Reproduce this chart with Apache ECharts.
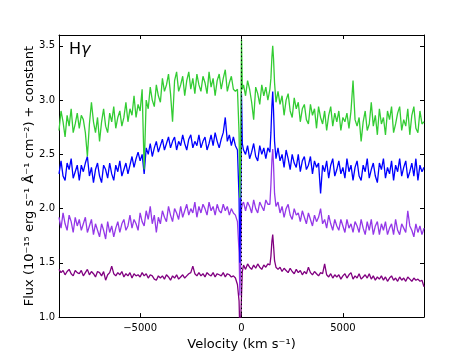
<!DOCTYPE html>
<html>
<head>
<meta charset="utf-8">
<script src="https://cdn.jsdelivr.net/npm/echarts@6/dist/echarts.min.js"></script>
<style>
  html, body { margin: 0; padding: 0; background: #fff; }
  #chart { width: 471px; height: 356px; }
</style>
</head>
<body>
<div id="chart"></div>
<script>
// velocity grid (km/s), denser around the narrow features at 0 and ~1500
var velocity = [
  -9000,-8900,-8800,-8700,-8600,-8500,-8400,-8300,-8200,-8100,
  -8000,-7900,-7800,-7700,-7600,-7500,-7400,-7300,-7200,-7100,
  -7000,-6900,-6800,-6700,-6600,-6500,-6400,-6300,-6200,-6100,
  -6000,-5900,-5800,-5700,-5600,-5500,-5400,-5300,-5200,-5100,
  -5000,-4900,-4800,-4700,-4600,-4500,-4400,-4300,-4200,-4100,
  -4000,-3900,-3800,-3700,-3600,-3500,-3400,-3300,-3200,-3100,
  -3000,-2900,-2800,-2700,-2600,-2500,-2400,-2300,-2200,-2100,
  -2000,-1900,-1800,-1700,-1600,-1500,-1400,-1300,-1200,-1100,
  -1000,-900,-800,-700,-600,-500,-400,
  -300,-200,-120,-80,-40,0,40,100,
  200,300,400,500,600,700,800,900,1000,1100,1200,1300,
  1400,1450,1500,1540,1580,1630,1700,
  1800,1900,2000,2100,2200,2300,2400,2500,2600,2700,
  2800,2900,3000,3100,3200,3300,3400,3500,3600,3700,
  3800,3900,4000,4100,4200,4300,4400,4500,4600,4700,
  4800,4900,5000,5100,5200,5300,5400,5500,5600,5700,
  5800,5900,6000,6100,6200,6300,6400,6500,6600,6700,
  6800,6900,7000,7100,7200,7300,7400,7500,7600,7700,
  7800,7900,8000,8100,8200,8300,8400,8500,8600,8700,
  8800,8900,9000
];

var fluxGreen = [
  2.72,2.90,2.80,2.66,2.86,2.76,2.92,2.70,2.78,2.88,
  2.74,2.86,2.82,2.70,2.48,2.78,2.98,2.80,2.70,2.84,
  2.62,2.80,2.92,2.76,2.70,2.88,2.80,2.94,2.74,2.84,
  2.90,2.76,2.84,2.98,2.80,2.92,2.86,3.04,2.84,2.96,
  2.90,3.10,2.36,3.00,2.92,3.12,3.00,2.94,3.14,3.04,
  2.98,3.20,3.08,3.14,3.24,3.06,2.80,3.18,3.26,3.08,
  3.14,3.22,3.04,3.18,3.26,3.10,3.20,3.06,3.24,3.14,
  3.08,3.22,3.16,3.06,3.26,3.12,3.20,3.04,3.18,3.24,
  3.10,3.20,3.28,3.08,3.16,3.22,3.10,
  3.08,3.10,2.70,2.10,2.60,3.56,3.10,3.14,
  3.04,3.18,3.10,2.98,2.82,3.12,3.06,2.96,3.14,3.04,3.12,3.00,
  3.10,3.20,3.40,3.50,3.38,3.16,2.98,
  3.08,2.96,3.04,2.86,3.00,3.06,2.90,2.84,3.02,2.92,
  2.98,2.80,2.92,2.96,2.82,2.78,2.96,2.86,2.92,2.74,
  2.94,2.84,2.78,2.90,2.72,2.86,2.94,2.76,2.88,2.80,
  2.90,2.72,2.84,2.80,2.88,2.74,2.90,3.18,2.82,2.76,
  2.84,2.62,2.80,2.90,2.72,2.78,2.98,2.76,2.86,2.68,
  2.92,2.78,2.84,2.68,2.90,2.82,2.94,2.70,2.78,2.88,
  2.94,2.72,2.82,2.76,2.92,2.68,2.86,2.94,2.74,2.70,
  2.90,2.78,2.80
];

var fluxBlue = [
  2.32,2.44,2.30,2.26,2.42,2.36,2.46,2.28,2.34,2.40,
  2.26,2.40,2.34,2.42,2.48,2.30,2.38,2.24,2.36,2.42,
  2.30,2.24,2.40,2.36,2.28,2.42,2.32,2.26,2.40,2.34,
  2.44,2.30,2.36,2.42,2.32,2.40,2.48,2.38,2.46,2.52,
  2.44,2.50,2.32,2.56,2.50,2.60,2.48,2.56,2.62,2.52,
  2.58,2.64,2.54,2.60,2.66,2.56,2.62,2.66,2.54,2.62,
  2.58,2.68,2.60,2.54,2.64,2.68,2.56,2.62,2.58,2.68,
  2.56,2.62,2.66,2.54,2.60,2.68,2.58,2.70,2.62,2.56,
  2.64,2.70,2.84,2.62,2.68,2.58,2.66,
  2.58,2.54,2.10,1.50,2.00,3.06,2.60,2.54,
  2.50,2.58,2.46,2.52,2.60,2.48,2.44,2.58,2.50,2.56,2.46,2.56,
  2.52,2.70,2.95,3.08,2.90,2.62,2.46,
  2.56,2.44,2.50,2.38,2.54,2.46,2.36,2.50,2.42,2.38,
  2.50,2.34,2.44,2.48,2.36,2.40,2.48,2.32,2.44,2.38,
  2.42,2.14,2.40,2.34,2.44,2.28,2.40,2.46,2.30,2.36,
  2.44,2.32,2.38,2.28,2.46,2.34,2.40,2.26,2.38,2.44,
  2.30,2.26,2.40,2.34,2.46,2.28,2.36,2.42,2.30,2.24,
  2.42,2.36,2.46,2.28,2.38,2.32,2.44,2.26,2.40,2.34,
  2.46,2.30,2.38,2.44,2.28,2.34,2.42,2.30,2.46,2.26,
  2.40,2.34,2.38
];

var fluxViolet = [
  1.92,1.82,1.96,1.86,1.80,1.94,1.88,1.78,1.92,1.84,
  1.90,1.80,1.86,1.92,1.78,1.84,1.90,1.76,1.86,1.80,
  1.74,1.86,1.80,1.72,1.88,1.78,1.84,1.74,1.82,1.88,
  1.78,1.86,1.90,1.80,1.84,1.94,1.82,1.90,1.86,1.80,
  1.96,1.88,1.84,1.98,1.90,2.02,1.86,1.94,1.78,1.92,
  1.86,1.98,1.92,1.88,2.02,1.94,1.88,2.00,1.96,1.90,
  2.02,1.92,1.98,2.04,1.94,2.00,1.96,2.06,1.92,2.02,
  1.96,2.04,2.00,1.94,2.06,1.98,2.02,1.94,2.04,1.98,
  1.96,2.04,1.98,2.02,1.94,2.00,1.96,
  1.94,1.88,1.60,1.20,1.50,2.00,2.04,2.06,
  1.98,2.06,2.02,1.96,2.08,2.00,1.96,2.06,2.02,1.98,2.08,2.04,
  2.04,2.22,2.45,2.55,2.40,2.14,2.02,
  2.06,1.96,2.02,1.92,2.00,2.04,1.94,1.90,2.00,1.94,
  1.96,1.88,1.98,1.92,1.86,1.96,1.90,1.84,1.94,1.88,
  1.92,2.00,1.86,1.90,1.82,1.94,1.86,1.80,1.90,1.84,
  1.80,1.90,1.84,1.78,1.90,1.82,1.86,1.78,1.88,1.84,
  1.78,1.90,1.82,1.76,1.88,1.80,1.90,1.76,1.84,1.88,
  1.76,1.86,1.80,1.88,1.76,1.82,1.86,1.76,1.90,1.80,
  1.76,1.86,1.82,1.78,1.98,1.84,1.80,1.74,1.86,1.78,
  1.84,1.76,1.82
];

var fluxPurple = [
  1.44,1.41,1.43,1.39,1.42,1.44,1.40,1.38,1.43,1.41,
  1.40,1.43,1.38,1.41,1.44,1.39,1.42,1.40,1.37,1.42,
  1.41,1.38,1.42,1.34,1.39,1.41,1.47,1.40,1.38,1.41,
  1.39,1.42,1.37,1.40,1.38,1.41,1.36,1.40,1.38,1.39,
  1.37,1.41,1.38,1.40,1.36,1.39,1.38,1.35,1.34,1.38,
  1.36,1.38,1.35,1.39,1.37,1.34,1.38,1.36,1.39,1.35,
  1.37,1.39,1.36,1.38,1.40,1.41,1.47,1.40,1.38,1.41,
  1.38,1.40,1.37,1.41,1.39,1.38,1.41,1.37,1.40,1.39,
  1.38,1.41,1.37,1.40,1.39,1.37,1.38,
  1.36,1.30,1.15,0.85,0.95,1.20,1.42,1.48,
  1.44,1.49,1.46,1.44,1.48,1.45,1.49,1.46,1.44,1.48,1.46,1.49,
  1.48,1.56,1.70,1.76,1.66,1.52,1.46,
  1.44,1.46,1.42,1.45,1.43,1.41,1.45,1.42,1.40,1.44,
  1.41,1.43,1.39,1.42,1.40,1.46,1.41,1.39,1.42,1.40,
  1.38,1.41,1.40,1.49,1.39,1.37,1.40,1.36,1.39,1.37,
  1.39,1.35,1.38,1.40,1.36,1.39,1.41,1.35,1.38,1.36,
  1.40,1.35,1.37,1.39,1.36,1.40,1.35,1.38,1.34,1.37,
  1.35,1.38,1.34,1.37,1.33,1.36,1.38,1.34,1.36,1.33,
  1.37,1.34,1.36,1.33,1.37,1.35,1.33,1.36,1.34,1.35,
  1.33,1.34,1.28
];

var yTicks = [1.0, 1.5, 2.0, 2.5, 3.0, 3.5];
var xTicks = [-5000, 0, 5000];

function pairs(vals) {
  return velocity.map(function (v, i) { return [v, vals[i]]; });
}

var font = 'DejaVu Sans';
var chart = echarts.init(document.getElementById('chart'));

function spec(name, color, vals) {
  return {
    name: name,
    type: 'line',
    data: pairs(vals),
    showSymbol: false,
    lineStyle: { color: color, width: 1.3 },
    clip: true
  };
}

var series = [
  spec('s4', '#800080', fluxPurple),
  spec('s3', '#9438e8', fluxViolet),
  spec('s2', '#0000ff', fluxBlue),
  spec('s1', '#33cc33', fluxGreen)
];
// dotted marker at zero velocity
series[3].markLine = {
  silent: true,
  symbol: 'none',
  label: { show: false },
  lineStyle: { color: '#000', type: [1.5, 2.5], width: 1 },
  data: [{ xAxis: 0 }]
};

var tickStyle = { show: true, inside: true, length: 4, lineStyle: { color: '#000' } };
var lineStyle = { show: true, onZero: false, lineStyle: { color: '#000' } };

chart.setOption({
  animation: false,
  backgroundColor: '#fff',
  grid: { left: 59, right: 47, top: 35, bottom: 37 },
  xAxis: [{
    type: 'value', min: -9000, max: 9000, position: 'bottom',
    axisLine: lineStyle,
    axisTick: Object.assign({ customValues: xTicks }, tickStyle),
    axisLabel: {
      customValues: xTicks, color: '#000', fontFamily: font, fontSize: 10, margin: 6,
      formatter: function (v) { return v < 0 ? '\u2212' + Math.abs(v) : String(v); }
    },
    splitLine: { show: false },
    name: 'Velocity (km s\u207B\u00B9)', nameLocation: 'middle', nameGap: 19,
    nameTextStyle: { color: '#000', fontFamily: font, fontSize: 13 }
  }, {
    type: 'value', min: -9000, max: 9000, position: 'top',
    axisLine: lineStyle,
    axisTick: Object.assign({ customValues: xTicks }, tickStyle),
    axisLabel: { show: false },
    splitLine: { show: false }
  }],
  yAxis: [{
    type: 'value', min: 1.0, max: 3.6, position: 'left',
    axisLine: lineStyle,
    axisTick: Object.assign({ customValues: yTicks }, tickStyle),
    axisLabel: {
      customValues: yTicks, color: '#000', fontFamily: font, fontSize: 10, margin: 4,
      formatter: function (v) { return v.toFixed(1); }
    },
    splitLine: { show: false },
    name: 'Flux (10\u207B\u00B9\u2075 erg s\u207B\u00B9 \u00C5\u207B\u00B9 cm\u207B\u00B2) + constant',
    nameLocation: 'middle', nameGap: 23, nameMoveOverlap: false,
    nameTextStyle: { color: '#000', fontFamily: font, fontSize: 13 }
  }, {
    type: 'value', min: 1.0, max: 3.6, position: 'right',
    axisLine: lineStyle,
    axisTick: Object.assign({ customValues: yTicks }, tickStyle),
    axisLabel: { show: false },
    splitLine: { show: false }
  }],
  graphic: [{
    type: 'text', left: 69, top: 42,
    style: {
      text: '{h|H}{g|\u03B3}',
      rich: {
        h: { fontFamily: font, fontSize: 16, fill: '#000' },
        g: { fontFamily: font, fontSize: 16, fontStyle: 'italic', fill: '#000' }
      }
    }
  }],
  series: series
});
</script>
</body>
</html>
